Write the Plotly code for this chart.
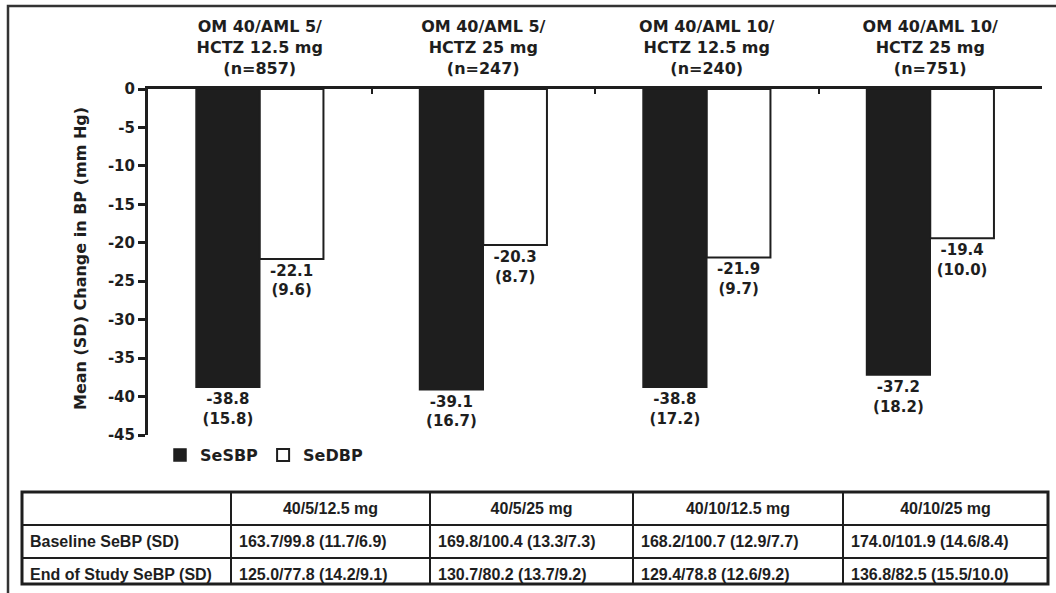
import plotly.graph_objects as go

# ---- data ----
categories = [
    "OM 40/AML 5/<br>HCTZ 12.5 mg<br>(n=857)",
    "OM 40/AML 5/<br>HCTZ 25 mg<br>(n=247)",
    "OM 40/AML 10/<br>HCTZ 12.5 mg<br>(n=240)",
    "OM 40/AML 10/<br>HCTZ 25 mg<br>(n=751)",
]
sbp_mean = [-38.8, -39.1, -38.8, -37.2]
sbp_sd = [15.8, 16.7, 17.2, 18.2]
dbp_mean = [-22.1, -20.3, -21.9, -19.4]
dbp_sd = [9.6, 8.7, 9.7, 10.0]
series_names = ["SeSBP", "SeDBP"]

ytick_vals = [0, -5, -10, -15, -20, -25, -30, -35, -40, -45]
ytick_text = ["0", "-5", "-10", "-15", "-20", "-25", "-30", "-35", "-40", "-45"]
y_title = "Mean (SD) Change in BP (mm Hg)"

table_header = ["", "40/5/12.5 mg", "40/5/25 mg", "40/10/12.5 mg", "40/10/25 mg"]
table_row_labels = ["Baseline SeBP (SD)", "End of Study SeBP (SD)"]
table_baseline = ["163.7/99.8 (11.7/6.9)", "169.8/100.4 (13.3/7.3)",
                  "168.2/100.7 (12.9/7.7)", "174.0/101.9 (14.6/8.4)"]
table_end = ["125.0/77.8 (14.2/9.1)", "130.7/80.2 (13.7/9.2)",
             "129.4/78.8 (12.6/9.2)", "136.8/82.5 (15.5/10.0)"]

# ---- layout helpers ----
W, H = 1056, 593
FONT = "DejaVu Sans"
TFONT = "Liberation Sans"
INK = "#1e1e1e"


def px(x):
    return x / W


def py(y):
    return 1 - y / H


def label(m, s):
    return [f"{a:.1f}<br>({b:.1f})" for a, b in zip(m, s)]


fig = go.Figure()
fig.add_trace(go.Bar(
    x=categories, y=sbp_mean, name=series_names[0],
    marker=dict(color=INK, line=dict(color=INK, width=1.5)),
    text=label(sbp_mean, sbp_sd), textposition="outside",
    outsidetextfont=dict(family=FONT, size=15, color=INK, weight="bold"),
    constraintext="none", cliponaxis=False, hoverinfo="skip",
))
fig.add_trace(go.Bar(
    x=categories, y=dbp_mean, name=series_names[1],
    marker=dict(color="white", line=dict(color=INK, width=2)),
    text=label(dbp_mean, dbp_sd), textposition="outside",
    outsidetextfont=dict(family=FONT, size=15, color=INK, weight="bold"),
    constraintext="none", cliponaxis=False, hoverinfo="skip",
))

cell_cols = [
    [f"<b>{t}</b>" for t in table_row_labels],
    [f"<b>{table_baseline[0]}</b>", f"<b>{table_end[0]}</b>"],
    [f"<b>{table_baseline[1]}</b>", f"<b>{table_end[1]}</b>"],
    [f"<b>{table_baseline[2]}</b>", f"<b>{table_end[2]}</b>"],
    [f"<b>{table_baseline[3]}</b>", f"<b>{table_end[3]}</b>"],
]
fig.add_trace(go.Table(
    domain=dict(x=[px(22), px(1048)], y=[py(584), py(492)]),
    columnwidth=[209, 199, 203, 210, 205],
    header=dict(values=[f"<b>{h}</b>" if h else "" for h in table_header],
                height=31, align="center",
                fill_color="white", line=dict(color=INK, width=2),
                font=dict(family=TFONT, size=16, color=INK)),
    cells=dict(values=cell_cols, height=31, align="left",
               fill_color="white", line=dict(color=INK, width=2),
               font=dict(family=TFONT, size=16, color=INK)),
))

fig.update_layout(
    width=W, height=H,
    margin=dict(l=0, r=0, t=0, b=0),
    paper_bgcolor="white", plot_bgcolor="white",
    barmode="group", bargap=0.43, bargroupgap=0,
    font=dict(family=FONT, color=INK),
    showlegend=True,
    legend=dict(orientation="h", x=px(160), y=py(455), xanchor="left", yanchor="middle",
                font=dict(family=FONT, size=16, color=INK, weight="bold"),
                bgcolor="rgba(0,0,0,0)", itemwidth=30, traceorder="normal"),
    xaxis=dict(domain=[px(148), px(1042)], side="top", type="category",
               showline=True, linewidth=3, linecolor=INK,
               ticks="inside", tickson="boundaries", ticklen=5, tickwidth=2, tickcolor=INK,
               tickfont=dict(family=FONT, size=16, color=INK, weight="bold"),
               ticklabelstandoff=6,
               showgrid=False, zeroline=False, automargin=False, fixedrange=True),
    yaxis=dict(domain=[py(435), py(89)], range=[-45, 0],
               tickvals=ytick_vals, ticktext=ytick_text,
               showline=True, linewidth=3, linecolor=INK,
               ticks="outside", ticklen=7, tickwidth=3, tickcolor=INK,
               tickfont=dict(family=FONT, size=15, color=INK, weight="bold"),
               showgrid=False, zeroline=False, automargin=False, fixedrange=True),
    annotations=[dict(text=y_title, x=px(80), y=py(259), xref="paper", yref="paper",
                      textangle=-90, showarrow=False, xanchor="center", yanchor="middle",
                      font=dict(family=FONT, size=16, color=INK, weight="bold"))],
    shapes=[
        dict(type="path", xref="paper", yref="paper",
             path=f"M {px(8)} {py(593)} L {px(8)} {py(6)} L {px(1056)} {py(6)}",
             line=dict(color="#333", width=2.5), layer="above"),
        dict(type="rect", xref="paper", yref="paper",
             x0=px(22), x1=px(1048), y0=py(584), y1=py(492),
             line=dict(color=INK, width=3), layer="above"),
    ],
)

fig.write_html("out.html", config={"displayModeBar": False})

# remove the browser's default body margin so the figure sits at the page origin
with open("out.html", "r", encoding="utf-8") as f:
    html = f.read()
html = html.replace("<head>", "<head><style>html,body{margin:0;padding:0;overflow:hidden;}</style>", 1)
with open("out.html", "w", encoding="utf-8") as f:
    f.write(html)
